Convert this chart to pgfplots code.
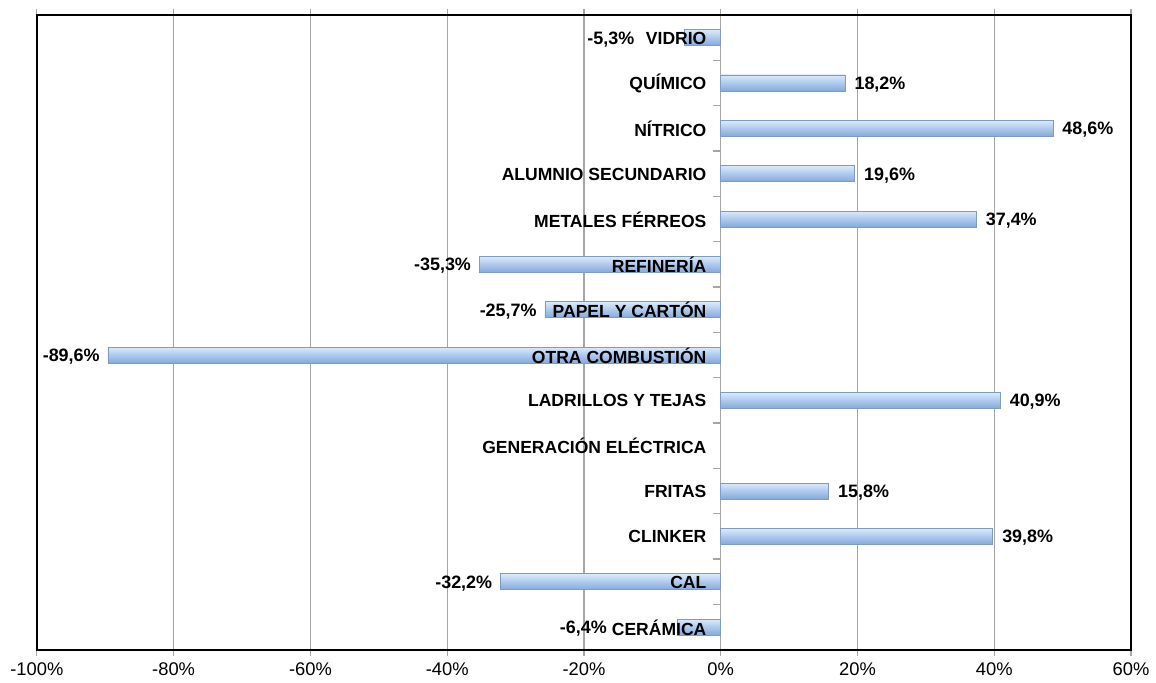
\documentclass[border=0pt]{standalone}
\usepackage{pgfplots}
\pgfplotsset{compat=1.18}
\usepackage{fontspec}
\setmainfont{Liberation Sans}
\definecolor{barTop}{HTML}{DCEAFA}
\definecolor{barMid}{HTML}{ADC9EE}
\definecolor{barBot}{HTML}{84A9DA}
\definecolor{barEdge}{HTML}{7E9BC4}
\definecolor{gridGray}{HTML}{A6A6A6}

\tikzset{lbl/.style={inner sep=0pt, yshift=-0.8pt, text=black,
    font=\bfseries\fontsize{9}{10}\selectfont}}
\pgfplotsset{
  onebar/.style={xbar, bar shift=0pt, bar width=8pt, draw=barEdge, line width=0.4pt,
    top color=barTop, bottom color=barBot, middle color=barMid,
    nodes near coords, point meta=explicit symbolic},
  pos/.style={onebar, every node near coord/.append style={lbl, anchor=west, xshift=4.5pt}},
  neg/.style={onebar, every node near coord/.append style={lbl, anchor=east, xshift=-#1}},
  neg/.default=4pt,
}

\begin{document}
\begin{tikzpicture}
\begin{axis}[
  scale only axis, width=549pt, height=318.5pt,
  xmin=-100, xmax=60, ymin=-0.5, ymax=13.5,
  xtick={-100,-80,...,60},
  xticklabels={-100\%,-80\%,-60\%,-40\%,-20\%,0\%,20\%,40\%,60\%},
  ytick=\empty,
  xmajorgrids, grid style={gridGray, line width=0.6pt},
  axis line style={black, line width=1.2pt},
  tick align=outside, major tick length=3pt,
  xtick style={gridGray, line width=0.6pt},
  x tick label style={font=\fontsize{9.2}{11}\selectfont},
  clip=false,
]
% one plot per bar, so that each bar carries its own shading
\addplot[neg=35pt] coordinates {(-6.4,0)[-6,4\%]};
\addplot[neg]      coordinates {(-32.2,1)[-32,2\%]};
\addplot[pos]      coordinates {(39.8,2)[39,8\%]};
\addplot[pos]      coordinates {(15.8,3)[15,8\%]};
\addplot[pos]      coordinates {(40.9,5)[40,9\%]};
\addplot[neg]      coordinates {(-89.6,6)[-89,6\%]};
\addplot[neg]      coordinates {(-25.7,7)[-25,7\%]};
\addplot[neg]      coordinates {(-35.3,8)[-35,3\%]};
\addplot[pos]      coordinates {(37.4,9)[37,4\%]};
\addplot[pos]      coordinates {(19.6,10)[19,6\%]};
\addplot[pos]      coordinates {(48.6,11)[48,6\%]};
\addplot[pos]      coordinates {(18.2,12)[18,2\%]};
\addplot[neg=25pt] coordinates {(-5.3,13)[-5,3\%]};
% separator ticks on the zero line
\addplot[only marks, mark=-, mark size=2pt, gridGray, mark options={xshift=-2pt, line width=0.6pt}]
  coordinates {(0,0.5) (0,1.5) (0,2.5) (0,3.5) (0,4.5) (0,5.5) (0,6.5)
    (0,7.5) (0,8.5) (0,9.5) (0,10.5) (0,11.5) (0,12.5)};
% category names
\addplot[only marks, mark=none, nodes near coords, point meta=explicit symbolic,
  every node near coord/.append style={anchor=east, inner sep=0pt, xshift=-7pt, yshift=-0.3pt,
    text=black, font=\bfseries\fontsize{8.8}{10}\selectfont}]
  coordinates {(0,0)[CERÁMICA] (0,1)[CAL] (0,2)[CLINKER] (0,3)[FRITAS]
    (0,4)[GENERACIÓN ELÉCTRICA] (0,5)[LADRILLOS Y TEJAS] (0,6)[OTRA COMBUSTIÓN]
    (0,7)[PAPEL Y CARTÓN] (0,8)[REFINERÍA] (0,9)[METALES FÉRREOS]
    (0,10)[ALUMNIO SECUNDARIO] (0,11)[NÍTRICO] (0,12)[QUÍMICO] (0,13)[VIDRIO]};
\path (rel axis cs:0,0) ++(-18.5pt,-16pt);
\path (rel axis cs:1,1) ++(10.5pt,7.5pt);
\end{axis}
\end{tikzpicture}
\end{document}
